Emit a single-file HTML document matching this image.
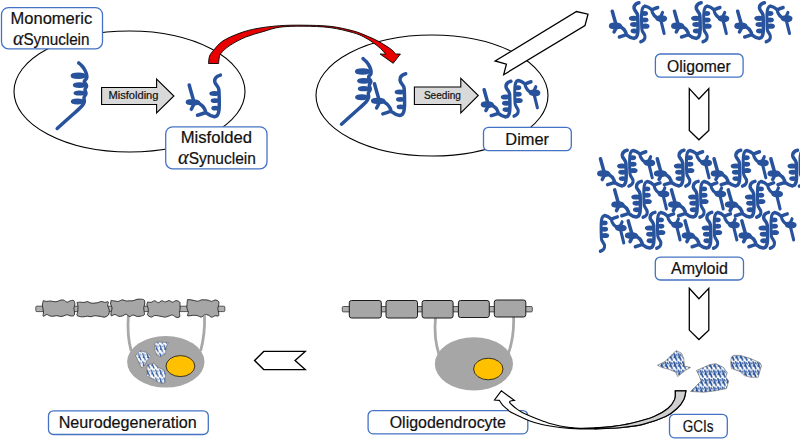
<!DOCTYPE html><html><head><meta charset="utf-8"><style>html,body{margin:0;padding:0;background:#fff;}svg{display:block;}text{font-family:"Liberation Sans",sans-serif;fill:#111;stroke:#111;stroke-width:0.2px;}</style></head><body>
<svg width="800" height="439" viewBox="0 0 800 439">
<defs>
<g id="mono"><path d="M78.7,62.9 C79.25,63.42 80.98,64.82 82.00,66.00 C83.02,67.18 84.03,68.58 84.80,70.00 C85.57,71.42 86.30,73.13 86.60,74.50 C86.90,75.87 86.98,77.03 86.60,78.20 C86.22,79.37 84.30,80.23 84.30,81.50 C84.30,82.77 86.48,84.45 86.60,85.80 C86.72,87.15 85.10,88.30 85.00,89.60 C84.90,90.90 86.17,92.27 86.00,93.60 C85.83,94.93 84.28,96.23 84.00,97.60 C83.72,98.97 84.72,100.32 84.30,101.80 C83.88,103.28 83.88,103.97 81.50,106.50 C79.12,109.03 74.05,113.33 70.00,117.00 C65.95,120.67 59.33,126.58 57.20,128.50" fill="none" stroke="#28539C" stroke-width="3.5" stroke-linecap="round" stroke-linejoin="round"/><path d="M72.35,75.85 A5.95,1.50 0 1,0 84.25,75.85 A5.95,1.50 0 1,0 72.35,75.85 Z M74.50,85.10 A5.10,1.15 0 1,0 84.70,85.10 A5.10,1.15 0 1,0 74.50,85.10 Z M75.25,93.00 A4.25,0.85 0 1,0 83.75,93.00 A4.25,0.85 0 1,0 75.25,93.00 Z M72.50,101.50 A4.90,1.25 0 1,0 82.30,101.50 A4.90,1.25 0 1,0 72.50,101.50 Z" fill="#28539C" stroke="#28539C" stroke-width="3.5" stroke-linecap="round" stroke-linejoin="round"/></g>
<g id="mis"><path d="M220.4,75.1 C217,76 214.5,78 214.7,81.4 C215,85 218.7,86 218.9,89.9 C219.2,95 219.3,100 219.3,104 C219.3,108 219,112 218,114 C217.5,115.5 216,116.5 214.5,116.7 M189.2,85 C190.5,90 192,95 193.3,99.5 M194,104 L191.3,109.3 M198.6,103 C201,104.5 203.5,106.5 204.5,108.8 C205.3,110.5 205.5,111.5 205.6,112 M197.5,115.2 C200,114.5 203,113.5 205.6,112.5 C207.5,114 209.5,116 214.5,116.8" fill="none" stroke="#28539C" stroke-width="3.5" stroke-linecap="round" stroke-linejoin="round"/><path d="M211.05,93.40 A3.35,0.75 0 1,0 217.75,93.40 A3.35,0.75 0 1,0 211.05,93.40 Z M212.45,100.70 A2.65,0.65 0 1,0 217.75,100.70 A2.65,0.65 0 1,0 212.45,100.70 Z M213.05,108.20 A2.35,0.65 0 1,0 217.75,108.20 A2.35,0.65 0 1,0 213.05,108.20 Z M187.4,102.2 C187.4,101 190,100.8 193,100.9 C196,101 198.6,101.6 198.6,102.6 C198.6,103.6 195,103.7 192,103.6 C189,103.5 187.4,103.2 187.4,102.2 Z" fill="#28539C" stroke="#28539C" stroke-width="3.5" stroke-linecap="round" stroke-linejoin="round"/></g>
<g id="misb"><path d="M220.4,75.1 C217,76 214.5,78 214.7,81.4 C215,85 218.7,86 218.9,89.9 C219.2,95 219.3,100 219.3,104 C219.3,108 219,112 218,114 C217.5,115.5 216,116.5 214.5,116.7 M189.2,85 C190.5,90 192,95 193.3,99.5 M194,104 L191.3,109.3 M198.6,103 C201,104.5 203.5,106.5 204.5,108.8 C205.3,110.5 205.5,111.5 205.6,112 M197.5,115.2 C200,114.5 203,113.5 205.6,112.5 C207.5,114 209.5,116 214.5,116.8" fill="none" stroke="#28539C" stroke-width="4.1" stroke-linecap="round" stroke-linejoin="round"/><path d="M210.65,93.40 A3.55,0.95 0 1,0 217.75,93.40 A3.55,0.95 0 1,0 210.65,93.40 Z M212.05,100.70 A2.85,0.85 0 1,0 217.75,100.70 A2.85,0.85 0 1,0 212.05,100.70 Z M212.65,108.20 A2.55,0.85 0 1,0 217.75,108.20 A2.55,0.85 0 1,0 212.65,108.20 Z M187.2,102.2 C187.2,100.6 190,100.3 193,100.4 C196,100.5 198.8,101.3 198.8,102.6 C198.8,104 195,104.2 192,104.1 C189,104 187.2,103.6 187.2,102.2 Z" fill="#28539C" stroke="#28539C" stroke-width="4.1" stroke-linecap="round" stroke-linejoin="round"/></g>
<g id="dimer"><use href="#misb" transform="translate(322.4,17.1) scale(0.855)"/><use href="#misb" transform="matrix(-0.75,0,0,-0.855,679.25,180.3)"/></g>
<g id="amy"><use href="#misb" transform="translate(321.4,17.1) scale(0.855)"/><use href="#misb" transform="matrix(-0.75,0,0,-0.855,676.8,181.3)"/></g>
<g id="olig"><use href="#misb" transform="translate(322.4,17.1) scale(0.855)"/><use href="#misb" transform="matrix(-0.75,0,0,-0.855,677.9,184.6)"/></g>
<pattern id="gpat" patternUnits="userSpaceOnUse" width="4.3" height="8.2"><rect width="4.3" height="8.2" fill="#fff"/><path d="M0.7,0.8 L3.4,7.4" stroke="#28539C" stroke-width="1.2" stroke-linecap="round"/><ellipse cx="1.6" cy="4.6" rx="1.0" ry="0.8" fill="#28539C"/><path d="M2.6,1.2 L3.8,3.0" stroke="#28539C" stroke-width="0.8"/></pattern>
<pattern id="gpat2" patternUnits="userSpaceOnUse" width="4.4" height="8.4"><rect width="4.4" height="8.4" fill="#fff"/><path d="M0.7,0.8 L3.4,7.4" stroke="#28539C" stroke-width="1.6" stroke-linecap="round"/><ellipse cx="1.5" cy="4.6" rx="1.3" ry="1.0" fill="#28539C"/><path d="M2.5,1.0 L4.0,3.2" stroke="#28539C" stroke-width="1.1"/></pattern>
<clipPath id="amyclip"><rect x="596" y="140" width="210" height="120"/></clipPath></defs>
<ellipse cx="129.5" cy="91.5" rx="115.5" ry="60.5" fill="none" stroke="#000" stroke-width="1.1"/>
<ellipse cx="432" cy="95.5" rx="116" ry="60.5" fill="none" stroke="#000" stroke-width="1.1"/>
<use href="#mono"/>
<use href="#mis"/>
<use href="#mono" transform="translate(284.3,-4.3)"/>
<use href="#mis" transform="translate(185.3,-1.3)"/>
<use href="#dimer"/>
<use href="#olig" transform="translate(128.1,-78.6)"/>
<use href="#olig" transform="translate(190.3,-78.6)"/>
<use href="#olig" transform="translate(253.5,-78.6)"/>
<g clip-path="url(#amyclip)">
<use href="#misb" transform="translate(88.8,134.1) matrix(-0.75,0,0,-0.855,676.8,181.3)"/>
<use href="#amy" transform="translate(117.3,69)"/>
<use href="#amy" transform="translate(174.1,69)"/>
<use href="#amy" transform="translate(230.9,69)"/>
<use href="#amy" transform="translate(287.7,69)"/>
<use href="#amy" transform="translate(131.5,100.1)"/>
<use href="#amy" transform="translate(188.3,100.1)"/>
<use href="#amy" transform="translate(245.1,100.1)"/>
<use href="#amy" transform="translate(145.1,131.1)"/>
<use href="#amy" transform="translate(201.9,131.1)"/>
<use href="#amy" transform="translate(258.7,131.1)"/>
</g>
<path d="M101.6,87.5 H156.6 V79 L173.9,96 L156.6,113 V104.5 H101.6 Z" fill="#D9D9D9" stroke="#000" stroke-width="1.1"/>
<path d="M414.4,87 H460.8 V78.3 L478.3,95.5 L460.8,113 V104.5 H414.4 Z" fill="#D9D9D9" stroke="#000" stroke-width="1.1"/>
<text x="108.44" y="99.2" font-size="10" textLength="50.03" lengthAdjust="spacingAndGlyphs" >Misfolding</text>
<text x="423.91" y="98.9" font-size="10" textLength="36.92" lengthAdjust="spacingAndGlyphs" >Seeding</text>
<path d="M208.5,63.5 C208.68,62.25 208.73,58.22 209.60,56.00 C210.47,53.78 211.50,52.70 213.70,50.20 C215.90,47.70 218.43,43.85 222.80,41.00 C227.17,38.15 234.20,35.18 239.90,33.10 C245.60,31.02 250.35,29.73 257.00,28.50 C263.65,27.27 272.13,26.25 279.80,25.70 C287.47,25.15 294.63,25.10 303.00,25.20 C311.37,25.30 321.70,25.37 330.00,26.30 C338.30,27.23 346.63,29.18 352.80,30.80 C358.97,32.42 362.63,34.20 367.00,36.00 C371.37,37.80 374.92,39.33 379.00,41.60 C383.08,43.87 388.75,47.53 391.50,49.60 C394.25,51.67 394.83,53.27 395.50,54.00 L400.4,54 L393.2,63.3 L380.1,54 L385.8,54.2 C384.92,53.25 382.58,50.40 380.50,48.50 C378.42,46.60 376.05,44.72 373.30,42.80 C370.55,40.88 367.42,38.70 364.00,37.00 C360.58,35.30 358.47,34.17 352.80,32.60 C347.13,31.03 338.30,28.67 330.00,27.60 C321.70,26.53 311.37,26.27 303.00,26.20 C294.63,26.13 286.33,26.33 279.80,27.20 C273.27,28.07 269.50,29.75 263.80,31.40 C258.10,33.05 251.30,34.73 245.60,37.10 C239.90,39.47 233.73,42.87 229.60,45.60 C225.47,48.33 222.53,51.43 220.80,53.50 C219.07,55.57 219.57,56.33 219.20,58.00 C218.83,59.67 218.70,62.58 218.60,63.50 Z" fill="#E80000" stroke="#000" stroke-width="0.9" stroke-linejoin="miter"/>
<path d="M495.1,61 L576.5,11.5 L588,14.2 L585,25.5 L503.7,74.7 L506.4,64.1 Z" fill="#fff" stroke="#000" stroke-width="1.3" stroke-linejoin="miter"/>
<path d="M689.3,88.6 L698.9,99.0 L708.8,88.6 V130.39999999999998 L698.9,139.8 L689.3,130.39999999999998 Z" fill="#fff" stroke="#000" stroke-width="1.3"/>
<path d="M689.3,288.3 L698.9,298.7 L708.8,288.3 V330.1 L698.9,339.5 L689.3,330.1 Z" fill="#fff" stroke="#000" stroke-width="1.3"/>
<path d="M254.6,360.5 L263.7,351.4 H305.2 L295.1,360.5 L305.2,369.6 H263.7 Z" fill="#fff" stroke="#000" stroke-width="1.4"/>
<rect x="1.5" y="7.6" width="101" height="41.2" rx="7" ry="7" fill="#fff" stroke="#4472C4" stroke-width="1.3"/>
<text x="10.52" y="23.9" font-size="15.6" textLength="81.67" lengthAdjust="spacingAndGlyphs" >Monomeric</text>
<text x="13.0" y="44.6" font-size="15.6" textLength="76.49" lengthAdjust="spacingAndGlyphs"><tspan font-family="Liberation Serif" font-style="italic" font-size="20.3">&#945;</tspan>Synuclein</text>
<rect x="165.7" y="126.8" width="101.3" height="42" rx="7" ry="7" fill="#fff" stroke="#4472C4" stroke-width="1.3"/>
<text x="180.66" y="143.3" font-size="15.6" textLength="71.27" lengthAdjust="spacingAndGlyphs" >Misfolded</text>
<text x="178.07" y="163.5" font-size="15.6" textLength="77.82" lengthAdjust="spacingAndGlyphs"><tspan font-family="Liberation Serif" font-style="italic" font-size="20.3">&#945;</tspan>Synuclein</text>
<rect x="483.5" y="127.3" width="87.8" height="23.4" rx="5" ry="5" fill="#fff" stroke="#4472C4" stroke-width="1.3"/>
<text x="505.29" y="144.7" font-size="15.6" textLength="43.8" lengthAdjust="spacingAndGlyphs" >Dimer</text>
<rect x="655.4" y="54" width="87.7" height="23.2" rx="5" ry="5" fill="#fff" stroke="#4472C4" stroke-width="1.3"/>
<text x="666.97" y="71.6" font-size="15.6" textLength="63.73" lengthAdjust="spacingAndGlyphs" >Oligomer</text>
<rect x="655.3" y="257.1" width="88.2" height="22.9" rx="5" ry="5" fill="#fff" stroke="#4472C4" stroke-width="1.3"/>
<text x="671.0" y="274.2" font-size="15.6" textLength="56.97" lengthAdjust="spacingAndGlyphs" >Amyloid</text>
<path d="M435.5,317.5 C434.3,330 435,342 438.9,354" fill="none" stroke="#A8A8A8" stroke-width="2.8"/>
<path d="M513.6,317 C514,330 512.5,342 508.2,354" fill="none" stroke="#A8A8A8" stroke-width="2.8"/>
<ellipse cx="473.9" cy="363.9" rx="39.1" ry="26.6" fill="#A6A6A6"/>
<ellipse cx="488.3" cy="369" rx="14.7" ry="10.8" fill="#FFC000" stroke="#222" stroke-width="0.9"/>
<rect x="342.3" y="306.5" width="190" height="5.4" rx="1" fill="#B0B0B0" stroke="#333" stroke-width="0.8"/>
<rect x="349.3" y="300.5" width="32.0" height="17.5" rx="2.2" fill="#A6A6A6" stroke="#1a1a1a" stroke-width="1.0"/>
<rect x="386" y="300.5" width="31.5" height="17.5" rx="2.2" fill="#A6A6A6" stroke="#1a1a1a" stroke-width="1.0"/>
<rect x="422.1" y="300.5" width="31.0" height="17.5" rx="2.2" fill="#A6A6A6" stroke="#1a1a1a" stroke-width="1.0"/>
<rect x="458.4" y="300.5" width="30.900000000000034" height="17.0" rx="2.2" fill="#A6A6A6" stroke="#1a1a1a" stroke-width="1.0"/>
<rect x="494.3" y="300" width="31.499999999999943" height="17" rx="2.2" fill="#A6A6A6" stroke="#1a1a1a" stroke-width="1.0"/>
<path d="M128.4,315 C127.5,327 128,340 131.2,351" fill="none" stroke="#A8A8A8" stroke-width="2.8"/>
<path d="M204.5,316 C205,328 203.5,340 200.6,351" fill="none" stroke="#A8A8A8" stroke-width="2.8"/>
<ellipse cx="165.8" cy="361.8" rx="38.7" ry="25.8" fill="#A6A6A6"/>
<ellipse cx="180.4" cy="366.1" rx="14.4" ry="10.5" fill="#FFC000" stroke="#222" stroke-width="0.9"/>
<rect x="35.8" y="306.2" width="189" height="5.4" rx="1" fill="#B0B0B0" stroke="#333" stroke-width="0.8"/>
<path d="M43.3,300.7 C43.87,300.79 45.57,301.35 46.70,301.41 C47.83,301.46 48.97,300.96 50.10,300.99 C51.23,301.01 52.37,301.45 53.50,301.55 C54.63,301.65 55.77,301.82 56.90,301.60 C58.03,301.39 59.17,300.50 60.30,300.26 C61.43,300.01 62.57,299.82 63.70,300.13 C64.83,300.44 65.97,302.01 67.10,302.11 C68.23,302.21 69.37,300.96 70.50,300.72 C71.63,300.48 73.17,299.97 73.90,300.66 C74.63,301.35 74.86,303.58 74.85,304.88 C74.84,306.17 73.89,307.26 73.84,308.45 C73.79,309.64 74.54,310.84 74.55,312.03 C74.56,313.21 74.57,314.89 73.90,315.54 C73.23,316.19 71.63,316.06 70.50,315.93 C69.37,315.80 68.23,314.76 67.10,314.76 C65.97,314.76 64.83,315.64 63.70,315.92 C62.57,316.21 61.43,316.53 60.30,316.48 C59.17,316.44 58.03,315.71 56.90,315.66 C55.77,315.60 54.63,316.12 53.50,316.18 C52.37,316.24 51.23,316.28 50.10,316.01 C48.97,315.74 47.83,314.52 46.70,314.55 C45.57,314.59 43.84,316.64 43.30,316.22 C42.76,315.80 43.54,313.32 43.47,312.03 C43.41,310.73 43.10,309.64 42.92,308.45 C42.74,307.26 42.34,306.17 42.40,304.88 C42.46,303.58 43.15,301.37 43.30,300.67 Z" fill="#A6A6A6" stroke="#222" stroke-width="0.9" stroke-linejoin="round"/>
<path d="M77.0,302.5 C77.58,302.41 79.31,302.13 80.47,302.13 C81.62,302.13 82.78,302.58 83.93,302.49 C85.09,302.40 86.24,301.50 87.40,301.59 C88.56,301.69 89.71,302.80 90.87,303.05 C92.02,303.30 93.18,303.14 94.33,303.08 C95.49,303.01 96.64,302.93 97.80,302.67 C98.96,302.40 100.11,301.54 101.27,301.48 C102.42,301.43 103.58,302.28 104.73,302.35 C105.89,302.42 107.70,301.31 108.20,301.89 C108.70,302.46 107.58,304.56 107.72,305.80 C107.86,307.04 108.83,308.13 109.07,309.30 C109.31,310.47 109.30,311.82 109.15,312.80 C109.01,313.78 108.94,314.48 108.20,315.21 C107.46,315.93 105.89,316.94 104.73,317.16 C103.58,317.39 102.42,316.74 101.27,316.55 C100.11,316.36 98.96,316.14 97.80,316.02 C96.64,315.89 95.49,315.66 94.33,315.78 C93.18,315.90 92.02,316.65 90.87,316.72 C89.71,316.79 88.56,316.19 87.40,316.20 C86.24,316.20 85.09,316.66 83.93,316.75 C82.78,316.83 81.62,316.91 80.47,316.69 C79.31,316.47 77.49,316.07 77.00,315.42 C76.51,314.77 77.36,313.82 77.51,312.80 C77.67,311.78 77.86,310.47 77.93,309.30 C77.99,308.13 78.06,306.94 77.90,305.80 C77.75,304.66 77.15,303.03 77.00,302.47 Z" fill="#A6A6A6" stroke="#222" stroke-width="0.9" stroke-linejoin="round"/>
<path d="M111.2,300.4 C111.81,300.47 113.64,300.86 114.87,301.04 C116.09,301.21 117.31,301.61 118.53,301.41 C119.76,301.20 120.98,299.87 122.20,299.80 C123.42,299.72 124.64,300.77 125.87,300.94 C127.09,301.10 128.31,300.83 129.53,300.79 C130.76,300.75 131.98,300.92 133.20,300.69 C134.42,300.45 135.64,299.62 136.87,299.36 C138.09,299.11 139.31,299.06 140.53,299.16 C141.76,299.27 143.51,299.21 144.20,300.02 C144.89,300.84 144.75,302.75 144.67,304.05 C144.59,305.35 143.80,306.55 143.72,307.80 C143.65,309.05 144.12,310.37 144.20,311.55 C144.28,312.73 144.81,314.10 144.20,314.86 C143.59,315.63 141.76,315.88 140.53,316.13 C139.31,316.38 138.09,316.55 136.87,316.37 C135.64,316.19 134.42,315.04 133.20,315.06 C131.98,315.09 130.76,316.63 129.53,316.50 C128.31,316.36 127.09,314.32 125.87,314.25 C124.64,314.17 123.42,315.73 122.20,316.05 C120.98,316.38 119.76,316.47 118.53,316.20 C117.31,315.94 116.09,314.53 114.87,314.46 C113.64,314.39 111.79,316.28 111.20,315.79 C110.61,315.31 111.17,312.88 111.31,311.55 C111.46,310.22 112.19,309.05 112.07,307.80 C111.96,306.55 110.79,305.29 110.64,304.05 C110.50,302.81 111.11,300.97 111.20,300.35 Z" fill="#A6A6A6" stroke="#222" stroke-width="0.9" stroke-linejoin="round"/>
<path d="M147.6,302.0 C148.19,302.06 149.97,302.53 151.16,302.32 C152.34,302.10 153.53,300.67 154.71,300.74 C155.90,300.80 157.08,302.69 158.27,302.70 C159.45,302.70 160.64,300.90 161.82,300.77 C163.01,300.63 164.19,301.95 165.38,301.91 C166.56,301.87 167.75,300.49 168.93,300.52 C170.12,300.56 171.30,302.09 172.49,302.12 C173.67,302.14 174.86,300.68 176.04,300.66 C177.23,300.64 178.94,301.25 179.60,302.00 C180.26,302.74 179.95,304.00 180.03,305.12 C180.12,306.25 180.20,307.54 180.11,308.75 C180.02,309.96 179.57,311.02 179.49,312.38 C179.40,313.73 180.17,316.08 179.60,316.88 C179.03,317.68 177.23,317.47 176.04,317.17 C174.86,316.87 173.67,315.27 172.49,315.08 C171.30,314.89 170.12,315.70 168.93,316.04 C167.75,316.38 166.56,317.01 165.38,317.10 C164.19,317.19 163.01,316.78 161.82,316.57 C160.64,316.37 159.45,316.04 158.27,315.87 C157.08,315.69 155.90,315.33 154.71,315.53 C153.53,315.73 152.34,317.18 151.16,317.09 C149.97,317.00 148.11,315.79 147.60,315.00 C147.09,314.22 147.99,313.42 148.10,312.38 C148.21,311.33 148.45,309.96 148.26,308.75 C148.07,307.54 147.05,306.25 146.94,305.12 C146.83,304.00 147.49,302.53 147.60,302.01 Z" fill="#A6A6A6" stroke="#222" stroke-width="0.9" stroke-linejoin="round"/>
<path d="M187.5,299.6 C188.07,299.67 189.80,299.72 190.94,299.87 C192.09,300.02 193.24,300.31 194.39,300.54 C195.54,300.77 196.69,301.34 197.83,301.24 C198.98,301.14 200.13,300.16 201.28,299.93 C202.43,299.70 203.57,299.83 204.72,299.87 C205.87,299.91 207.02,299.90 208.17,300.16 C209.31,300.41 210.46,301.45 211.61,301.42 C212.76,301.38 213.91,299.96 215.06,299.95 C216.20,299.95 217.87,300.60 218.50,301.38 C219.13,302.15 218.93,303.43 218.81,304.60 C218.70,305.77 217.84,307.13 217.80,308.40 C217.76,309.67 218.45,310.95 218.57,312.20 C218.68,313.45 219.09,315.28 218.50,315.87 C217.91,316.47 216.20,315.57 215.06,315.79 C213.91,316.01 212.76,317.32 211.61,317.19 C210.46,317.06 209.31,315.41 208.17,315.02 C207.02,314.63 205.87,314.51 204.72,314.85 C203.57,315.19 202.43,316.90 201.28,317.06 C200.13,317.21 198.98,316.06 197.83,315.77 C196.69,315.47 195.54,315.31 194.39,315.28 C193.24,315.25 192.09,315.53 190.94,315.59 C189.80,315.66 187.93,316.24 187.50,315.68 C187.07,315.11 188.47,313.41 188.37,312.20 C188.28,310.99 187.18,309.67 186.94,308.40 C186.71,307.13 186.86,306.06 186.96,304.60 C187.05,303.14 187.41,300.46 187.50,299.63 Z" fill="#A6A6A6" stroke="#222" stroke-width="0.9" stroke-linejoin="round"/>
<path d="M135.3,355.5 L140,350.8 L147.8,352.6 L150.7,356.7 L146.6,360.9 L145.4,364.4 L141.8,368 L138.9,362.7 L137.1,358.5 Z" fill="url(#gpat)" stroke="#777" stroke-width="0.7"/>
<path d="M154.3,343.7 L157.8,341.9 L168.5,342.5 L166.1,347.8 L165.5,353.8 L160.8,356.7 L156.7,355 L154.9,350.2 Z" fill="url(#gpat)" stroke="#777" stroke-width="0.7"/>
<path d="M147.2,365 L153.7,363.3 L158.4,367.4 L164.4,370.4 L165.5,373.9 L165,382.8 L160.8,383.4 L153.7,379.8 L146.6,375.7 Z" fill="url(#gpat)" stroke="#777" stroke-width="0.7"/>
<path d="M657.5,365.3 L665,361.5 L672.5,354 L676.2,350.7 L681.5,353.2 L683.7,358.5 L684.5,366 L690.5,367.5 L685.2,370.5 L677.7,376.5 L675.5,372 L668,369 L662,367.5 Z" fill="url(#gpat2)" stroke="#777" stroke-width="0.7"/>
<path d="M696.5,370.5 L710,364.5 L716,363.7 L723.5,367.5 L727.2,372.7 L725.7,377.2 L728.7,381 L726.5,388.5 L716,390.7 L704,392.2 L690.5,391.5 L696.5,385.5 L701,381 L699.5,376.5 Z" fill="url(#gpat2)" stroke="#777" stroke-width="0.7"/>
<path d="M731.4,357.1 L733.5,355.4 L740.3,355.4 L750.6,358.5 L760.1,362.9 L761.5,365.7 L760.1,370.5 L758.1,377.3 L750.6,377.3 L744.4,375.6 L740.3,371.8 L731.4,368.4 L730.7,362.3 Z" fill="url(#gpat2)" stroke="#777" stroke-width="0.7"/>
<rect x="368.1" y="410.6" width="159.7" height="23.2" rx="5" ry="5" fill="#fff" stroke="#4472C4" stroke-width="1.3"/>
<text x="389.71" y="428.2" font-size="15.6" textLength="116.2" lengthAdjust="spacingAndGlyphs" >Oligodendrocyte</text>
<path d="M685.9,390.8 C685.55,392.23 685.28,396.45 683.80,399.40 C682.32,402.35 680.03,405.65 677.00,408.50 C673.97,411.35 671.30,413.85 665.60,416.50 C659.90,419.15 650.40,422.53 642.80,424.40 C635.20,426.27 627.97,426.95 620.00,427.70 C612.03,428.45 601.67,428.68 595.00,428.90 C588.33,429.12 584.17,429.07 580.00,429.00 C575.83,428.93 573.33,428.75 570.00,428.50 C566.67,428.25 563.33,427.92 560.00,427.50 C556.67,427.08 553.33,426.58 550.00,426.00 C546.67,425.42 543.33,424.83 540.00,424.00 C536.67,423.17 533.33,422.25 530.00,421.00 C526.67,419.75 522.43,417.60 520.00,416.50 C517.57,415.40 516.97,415.15 515.40,414.40 C513.83,413.65 512.08,412.97 510.60,412.00 C509.12,411.03 507.87,409.80 506.50,408.60 C505.13,407.40 503.60,406.17 502.40,404.80 C501.20,403.43 499.82,401.13 499.30,400.40 L494.5,400 L501.3,390.8 L514.3,400.4 C509.07,400.80 509.28,401.95 509.90,402.80 C510.52,403.65 511.47,404.48 512.60,405.50 C513.73,406.52 515.10,407.75 516.70,408.90 C518.30,410.05 519.98,411.22 522.20,412.40 C524.42,413.58 527.03,414.73 530.00,416.00 C532.97,417.27 536.67,418.75 540.00,420.00 C543.33,421.25 546.67,422.50 550.00,423.50 C553.33,424.50 556.67,425.33 560.00,426.00 C563.33,426.67 566.67,427.12 570.00,427.50 C573.33,427.88 575.83,428.23 580.00,428.30 C584.17,428.37 589.67,428.18 595.00,427.90 C600.33,427.62 605.93,427.37 612.00,426.60 C618.07,425.83 624.37,424.98 631.40,423.30 C638.43,421.62 648.12,418.97 654.20,416.50 C660.28,414.03 664.48,411.35 667.90,408.50 C671.32,405.65 673.47,402.35 674.70,399.40 C675.93,396.45 675.20,392.23 675.30,390.80 Z" fill="#fff" stroke="#000" stroke-width="1.15" stroke-linejoin="miter"/>
<path d="M685.9,390.8 C685.55,392.23 685.28,396.45 683.80,399.40 C682.32,402.35 680.03,405.65 677.00,408.50 C673.97,411.35 671.30,413.85 665.60,416.50 C659.90,419.15 650.40,422.53 642.80,424.40 C635.20,426.27 627.97,426.95 620.00,427.70 C612.03,428.45 599.17,428.70 595.00,428.90 L595,427.9 C597.83,427.68 605.93,427.37 612.00,426.60 C618.07,425.83 624.37,424.98 631.40,423.30 C638.43,421.62 648.12,418.97 654.20,416.50 C660.28,414.03 664.48,411.35 667.90,408.50 C671.32,405.65 673.47,402.35 674.70,399.40 C675.93,396.45 675.20,392.23 675.30,390.80 Z" fill="#D0D0D0" stroke="#000" stroke-width="1.15"/>
<rect x="48.5" y="410.8" width="159.8" height="23.7" rx="5" ry="5" fill="#fff" stroke="#4472C4" stroke-width="1.3"/>
<text x="58.72" y="428.4" font-size="15.6" textLength="138.03" lengthAdjust="spacingAndGlyphs" >Neurodegeneration</text>
<rect x="669.5" y="414.3" width="57.8" height="23.5" rx="5" ry="5" fill="#fff" stroke="#4472C4" stroke-width="1.3"/>
<text x="682.67" y="432" font-size="15.6" textLength="30.86" lengthAdjust="spacingAndGlyphs" >GCIs</text>
</svg></body></html>
